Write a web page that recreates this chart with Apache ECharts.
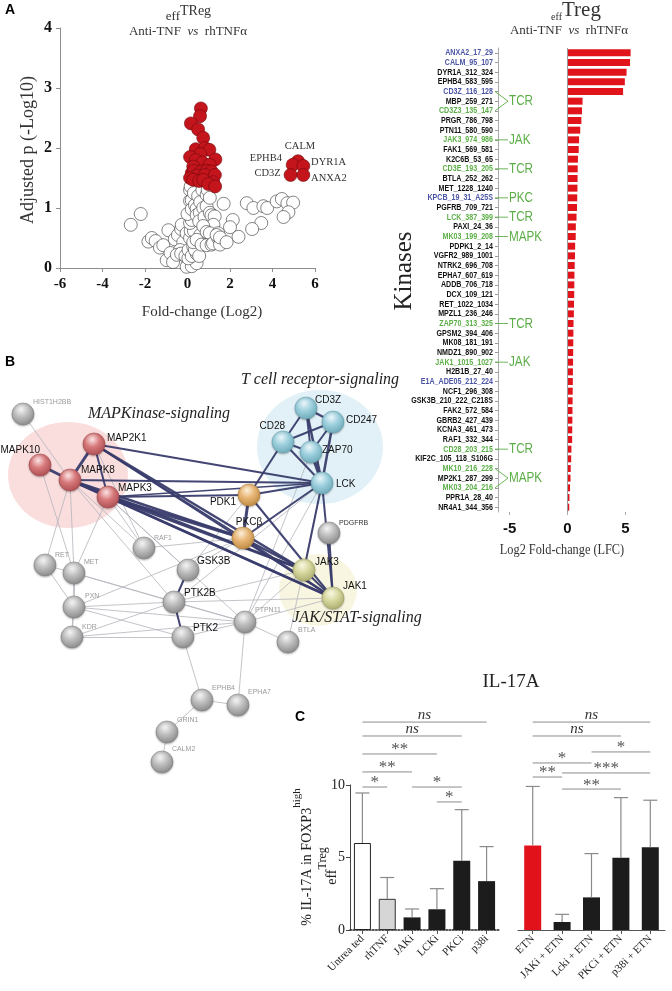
<!DOCTYPE html>
<html><head><meta charset="utf-8">
<script src="https://cdn.jsdelivr.net/npm/echarts@6.0.0/dist/echarts.min.js"></script>
<style>html,body{margin:0;padding:0;background:#fff}#c{width:672px;height:991px}</style>
</head><body><div id="c"></div>
<script>
// ---------------- DATA ----------------
// Panel A (volcano): [log2 fold-change, -log10 adjusted p]
const volcanoOpen = [[-2.67,0.72],[-2.2,0.9],[-1.84,0.44],[-1.68,0.5],[-1.5,0.45],[-1.3,0.34],[-1.14,0.38],[-0.9,0.63],[-0.98,0.13],[-0.8,0.25],[-0.68,0.1],[-0.6,0.48],[-0.45,0.55],[-0.3,0.65],[-0.27,0.72],[-0.11,0.38],[-0.2,0.43],[-0.35,0.3],[-0.5,0.22],[-0.3,0.24],[-0.1,0.2],[0.04,0.08],[-0.04,0.02],[0.2,0.03],[0.43,0.08],[0.04,0.16],[0.05,0.3],[0.2,0.2],[0.27,0.36],[0.43,0.24],[0.35,0.3],[0.55,0.2],[-0.04,0.58],[0.12,0.5],[0.15,0.62],[0.3,0.62],[0.12,0.75],[0.2,0.8],[0.0,0.9],[0.12,1.12],[0.12,1.3],[0.15,1.36],[0.2,1.13],[0.2,0.98],[0.3,1.25],[0.35,1.05],[0.43,0.99],[0.43,0.88],[0.5,1.2],[0.6,1.1],[0.58,0.92],[0.55,0.78],[0.6,0.55],[0.7,1.3],[0.74,1.0],[0.8,0.85],[0.9,1.03],[0.9,1.22],[0.95,1.3],[1.05,1.17],[1.05,0.92],[1.13,0.88],[1.28,0.86],[1.22,0.72],[0.74,0.7],[0.9,0.6],[1.05,0.58],[1.44,0.58],[0.27,0.43],[0.43,0.47],[0.66,0.39],[0.9,0.38],[1.13,0.39],[1.2,0.41],[1.44,0.5],[1.53,0.39],[1.37,0.55],[1.53,0.51],[1.7,1.07],[2.13,0.8],[2.0,0.68],[2.4,0.52],[1.84,0.43],[2.79,1.08],[3.1,1.0],[3.57,1.03],[3.75,1.0],[4.2,1.11],[4.44,1.15],[4.7,1.08],[4.97,1.09],[4.75,0.93],[4.52,0.85],[3.47,0.75],[3.04,0.65]];
const volcanoSig = [[0.63,2.66],[0.59,2.53],[0.16,2.41],[0.5,2.31],[0.74,2.17],[0.39,1.98],[0.82,2.0],[1.03,1.97],[0.6,1.9],[0.12,1.85],[1.31,1.81],[0.39,1.8],[0.7,1.76],[0.27,1.69],[1.05,1.72],[0.2,1.58],[0.3,1.62],[0.66,1.61],[0.9,1.62],[1.13,1.61],[0.43,1.54],[0.82,1.55],[1.29,1.55],[0.12,1.5],[0.27,1.47],[0.55,1.45],[0.74,1.47],[1.21,1.43],[0.98,1.4],[1.3,1.36]];
const labeledNames = ['CALM','EPHB4','DYR1A','CD3Z','ANXA2'];
const labeledX = [5.2,4.95,5.45,4.85,5.45];
const labeledY = [1.78,1.72,1.70,1.55,1.55];

// Panel A (kinases)
const kinaseNames = ['ANXA2_17_29','CALM_95_107','DYR1A_312_324','EPHB4_583_595','CD3Z_116_128','MBP_259_271','CD3Z3_135_147','PRGR_786_798','PTN11_580_590','JAK3_974_986','FAK1_569_581','K2C6B_53_65','CD3E_193_205','BTLA_252_262','MET_1228_1240','KPCB_19_31_A25S','PGFRB_709_721','LCK_387_399','PAXI_24_36','MK03_199_208','PDPK1_2_14','VGFR2_989_1001','NTRK2_696_708','EPHA7_607_619','ADDB_706_718','DCX_109_121','RET_1022_1034','MPZL1_236_246','ZAP70_313_325','GPSM2_394_406','MK08_181_191','NMDZ1_890_902','JAK1_1015_1027','H2B1B_27_40','E1A_ADE05_212_224','NCF1_296_308','GSK3B_210_222_C218S','FAK2_572_584','GBRB2_427_439','KCNA3_461_473','RAF1_332_344','CD28_203_215','KIF2C_105_118_S106G','MK10_216_228','MP2K1_287_299','MK03_204_216','PPR1A_28_40','NR4A1_344_356'];
const kinaseLFC = [5.45,5.4,5.1,4.95,4.8,1.3,1.25,1.2,1.1,1.0,0.97,0.9,0.88,0.87,0.86,0.84,0.82,0.78,0.72,0.71,0.66,0.65,0.62,0.6,0.59,0.58,0.56,0.55,0.52,0.51,0.5,0.49,0.48,0.47,0.46,0.45,0.44,0.43,0.42,0.41,0.4,0.34,0.32,0.28,0.26,0.22,0.17,0.15];
const kinaseGroup = ['b','b','k','k','b','k','g','k','k','g','k','k','g','k','k','b','k','g','k','g','k','k','k','k','k','k','k','k','g','k','k','k','g','k','b','k','k','k','k','k','k','g','k','g','k','g','k','k'];
const pathwayLabels = ['TCR','JAK','TCR','PKC','TCR','MAPK','TCR','JAK','TCR','MAPK'];
const pathwayRows = [[4,6],[9],[12],[15],[17],[19],[28],[32],[41],[43,45]];
const pathwayAt = [5,9,12,15,17,19,28,32,41,44];
const kinaseTicks = [-5,0,5];

// Panel B (network): name, layout x, layout y, module
const netNames = ['HIST1H2BB','MAP2K1','MAPK10','MAPK8','MAPK3','CD3Z','CD247','CD28','ZAP70','LCK','PDK1','PKCβ','PDGFRB','RAF1','RET','MET','GSK3B','JAK3','JAK1','PTK2B','PXN','PTPN11','PTK2','KDR','BTLA','EPHB4','EPHA7','GRIN1','CALM2'];
const netX = [23,94,40,70,108,306,333,283,311,322,249,243,329,144,45,74,188,304,333,174,74,245,183,72,288,202,238,167,162];
const netY = [414,444,465,480,497,408,422,442,452,483,495,538,533,548,565,573,570,570,598,602,607,622,637,637,642,700,705,732,762];
const netModule = ['g','r','r','r','r','b','b','b','b','b','o','o','g','g','g','g','g','y','y','g','g','g','g','g','g','g','g','g','g'];
const netStrong = [['MAP2K1','MAPK8',3],['MAPK10','MAPK8',3],['MAPK8','MAPK3',3],['MAP2K1','MAPK3',2],['MAP2K1','LCK',2],['MAP2K1','JAK3',2.5],['MAP2K1','JAK1',2],['MAP2K1','PKCβ',2],['MAPK8','LCK',2],['MAPK8','PKCβ',2.5],['MAPK8','JAK3',2],['MAPK8','JAK1',2],['MAPK3','PDK1',2],['MAPK3','LCK',1.5],['MAPK3','PKCβ',3],['MAPK3','JAK3',2.5],['MAPK3','JAK1',2.5],['CD3Z','CD247',2.5],['CD3Z','CD28',2],['CD3Z','ZAP70',2],['CD3Z','LCK',2.5],['CD247','CD28',2],['CD247','ZAP70',2],['CD247','LCK',2.5],['CD28','ZAP70',2],['CD28','LCK',2],['ZAP70','LCK',3],['CD28','PDK1',2],['PDK1','LCK',2],['PDK1','PKCβ',3],['PDK1','JAK1',2],['PKCβ','LCK',2],['PKCβ','JAK3',2.5],['PKCβ','JAK1',2.5],['LCK','JAK3',2],['LCK','JAK1',2],['PDGFRB','JAK1',2],['JAK3','JAK1',2],['GSK3B','PTK2B',2],['PTK2B','PTK2',2]];
const netWeak = [['HIST1H2BB','MAPK8'],['MAPK10','MET'],['MAPK8','RET'],['MAPK8','MET'],['MAPK3','MET'],['MAPK3','RAF1'],['MAP2K1','RAF1'],['MAPK8','RAF1'],['MAPK3','GSK3B'],['MAPK8','PTK2B'],['MAPK3','PTPN11'],['RET','MET'],['RET','PXN'],['MET','PXN'],['MET','KDR'],['MET','PTK2B'],['MET','PTPN11'],['PXN','KDR'],['PXN','PTK2B'],['PXN','PTK2'],['PXN','PTPN11'],['PXN','PKCβ'],['KDR','PTK2'],['KDR','PTK2B'],['KDR','PTPN11'],['PTK2B','PTPN11'],['PTK2','PTPN11'],['PTPN11','BTLA'],['PTPN11','LCK'],['PTPN11','JAK1'],['PTPN11','JAK3'],['PTPN11','ZAP70'],['GSK3B','PKCβ'],['GSK3B','PDK1'],['PTK2B','JAK1'],['PTK2B','LCK'],['PTK2B','JAK3'],['RAF1','PKCβ'],['PTK2','EPHB4'],['PTPN11','EPHA7'],['EPHB4','EPHA7'],['EPHB4','GRIN1'],['GRIN1','CALM2'],['BTLA','LCK']];
const moduleNames = ['MAPKinase-signaling','T cell receptor-signaling','JAK/STAT-signaling'];
const moduleCenterX = [68,320,318];
const moduleCenterY = [475,447,590];

// Panel C (IL-17A)
const leftCats = ['Untrea ted','rhTNF','JAKi','LCKi','PKCi','p38i'];
const leftMean = [6.0,2.15,0.87,1.43,4.77,3.37];
const leftErrTop = [9.45,3.62,1.45,2.85,8.3,5.75];
const rightCats = ['ETN','JAKi + ETN','Lcki + ETN','PKCi + ETN','p38i + ETN'];
const rightMean = [5.82,0.55,2.25,4.99,5.71];
const rightErrTop = [9.9,1.08,5.27,9.13,8.95];
const leftSig = [[0,5,14.34,'ns'],[0,4,13.38,'ns'],[0,3,12.14,'**'],[0,2,10.9,'**'],[0,1,9.86,'*'],[2,4,9.86,'*'],[3,4,8.83,'*']];
const rightSig = [[0,4,14.34,'ns'],[0,3,13.38,'ns'],[2,4,12.28,'*'],[0,2,11.52,'*'],[1,4,10.83,'***'],[0,1,10.55,'**'],[1,3,9.72,'**']];

// ---------------- STYLE ----------------
const SERIF = '"Liberation Serif","Times New Roman",serif';
const SANS = '"Liberation Sans",Arial,sans-serif';
const BLUE = '#4b55a6', GREEN = '#5bae46', RED = '#e1141c';
const labelColor = {b: BLUE, g: GREEN, k: '#111'};
const moduleColor = {
  r: ['#fbe3e3', '#d7787a', '#a94c50'],
  b: ['#eaf6fa', '#9dd0dd', '#6aa6b6'],
  o: ['#fcefd9', '#e8b574', '#b98640'],
  y: ['#f8f8e2', '#d7d89f', '#a8a96c'],
  g: ['#f4f4f4', '#bdbdbd', '#858585']
};
const nodeLabelStyle = {
  'HIST1H2BB':[10,-12,'left',0], 'MAP2K1':[13,-6,'left',1], 'MAPK10':[0,-15,'right',1], 'MAPK8':[11,-10,'left',1],
  'MAPK3':[10,-9,'left',1], 'CD3Z':[9,-8,'left',1], 'CD247':[13,-2,'left',1], 'CD28':[2,-16,'right',1],
  'ZAP70':[11,-2,'left',1], 'LCK':[14,1,'left',1], 'PDK1':[-13,7,'right',1], 'PKCβ':[6,-16,'center',1],
  'PDGFRB':[10,-10,'left',2], 'RAF1':[10,-10,'left',0], 'RET':[10,-10,'left',0], 'MET':[10,-11,'left',0],
  'GSK3B':[9,-9,'left',1], 'JAK3':[11,-8,'left',1], 'JAK1':[10,-12,'left',1], 'PTK2B':[10,-9,'left',1],
  'PXN':[11,-11,'left',0], 'PTPN11':[10,-12,'left',0], 'PTK2':[10,-9,'left',1], 'KDR':[10,-10,'left',0],
  'BTLA':[10,-12,'left',0], 'EPHB4':[10,-12,'left',0], 'EPHA7':[10,-13,'left',0], 'GRIN1':[10,-12,'left',0], 'CALM2':[10,-13,'left',0]
};

const chart = echarts.init(document.getElementById('c'), null, {renderer: 'canvas', width: 672, height: 991});

function txt(x, y, text, opt, extraProps) {
  return Object.assign({type: 'text', x: x, y: y, silent: true, z: 50,
    style: Object.assign({text: text, fill: '#222', fontFamily: SERIF, fontSize: 14, align: 'center', verticalAlign: 'middle'}, opt || {})}, extraProps || {});
}
function rtxt(x, y, text, opt, rot) {
  return txt(x, y, text, opt, {rotation: rot});
}

// network nodes
const netData = netNames.map((n, i) => {
  const c = moduleColor[netModule[i]];
  const ls = nodeLabelStyle[n];
  const kind = ls[3];
  return {
    name: n, value: [netX[i], netY[i]],
    itemStyle: {
      color: new echarts.graphic.RadialGradient(0.42, 0.3, 0.75, [
        {offset: 0, color: c[0]}, {offset: 0.45, color: c[1]}, {offset: 1, color: c[2]}]),
      borderColor: c[2], borderWidth: 0.6, shadowColor: 'rgba(0,0,0,0.25)', shadowBlur: 2, shadowOffsetY: 1
    },
    label: {
      show: true, position: 'inside', offset: [ls[0], ls[1]], align: ls[2], verticalAlign: 'middle',
      fontFamily: SANS, fontSize: kind === 1 ? 10 : 7, color: kind === 0 ? '#9a9a9a' : (kind === 2 ? '#333' : '#111')
    }
  };
});
const netLinks = netWeak.map(l => ({source: l[0], target: l[1], lineStyle: {color: '#b4b4bc', width: 0.8, opacity: 1}}))
  .concat(netStrong.map(l => ({source: l[0], target: l[1], lineStyle: {color: '#393c6c', width: l[2], opacity: 0.95}})));

const richTitle = {n: {fontFamily: SERIF, fontSize: 13, fill: '#333'}, i: {fontFamily: SERIF, fontSize: 13, fontStyle: 'italic', fill: '#333'}};
const baseGraphic = [
  txt(10, 10, 'A', {fontFamily: SANS, fontWeight: 'bold', fontSize: 14, fill: '#000'}),
  txt(10, 362, 'B', {fontFamily: SANS, fontWeight: 'bold', fontSize: 14, fill: '#000'}),
  txt(300, 717, 'C', {fontFamily: SANS, fontWeight: 'bold', fontSize: 14, fill: '#000'}),
  // volcano title
  txt(180, 17, 'eff', {align: 'right', fontSize: 13, fill: '#333'}),
  txt(180, 11, 'TReg', {align: 'left', fontSize: 14, fill: '#333'}),
  txt(188, 32, '{n|Anti-TNF  }{i|vs}{n|  rhTNFα}', {fontSize: 13, rich: richTitle}),
  rtxt(28, 150, 'Adjusted p (-Log10)', {fontSize: 18, fill: '#333'}, Math.PI / 2),
  txt(202, 312, 'Fold-change (Log2)', {fontSize: 15, fill: '#333'}),
  // kinase title
  txt(562, 17, 'eff', {align: 'right', fontSize: 10, fill: '#333'}),
  txt(562, 10, 'Treg', {align: 'left', fontSize: 21, fill: '#333'}),
  txt(569, 31, '{n|Anti-TNF  }{i|vs}{n|  rhTNFα}', {fontSize: 13, rich: richTitle}),
  rtxt(404, 271, 'Kinases', {fontSize: 25, fill: '#222'}, Math.PI / 2),
  txt(562, 550, 'Log2 Fold-change (LFC)', {fontSize: 15, fill: '#333'}, {scaleX: 0.82, originX: 0}),
  // network module titles
  txt(159, 414, moduleNames[0], {fontSize: 16, fontStyle: 'italic', fill: '#222'}),
  txt(320, 380, moduleNames[1], {fontSize: 16, fontStyle: 'italic', fill: '#222'}),
  txt(357, 618, moduleNames[2], {fontSize: 16, fontStyle: 'italic', fill: '#222'}),
  // panel C
  txt(511, 682, 'IL-17A', {fontSize: 19, fill: '#222'}),
  rtxt(303, 857, '{a|% IL-17A in FOXP3}{s|high}', {rich: {a: {fontFamily: SERIF, fontSize: 14, fill: '#222', lineHeight: 22, verticalAlign: 'bottom'}, s: {fontFamily: SERIF, fontSize: 11, fill: '#222', verticalAlign: 'top', lineHeight: 22}}}, Math.PI / 2),
  rtxt(328, 866, '{e|eff}{t|Treg}', {rich: {e: {fontFamily: SERIF, fontSize: 14, fill: '#222', lineHeight: 22, verticalAlign: 'bottom'}, t: {fontFamily: SERIF, fontSize: 12, fill: '#222', verticalAlign: 'top', lineHeight: 22}}}, Math.PI / 2)
];

const grayAxis = {onZero: false, lineStyle: {color: '#8e8e8e', width: 1}};
const option = {
  animation: false,
  backgroundColor: '#fff',
  grid: [
    {left: 60, top: 28, width: 255, height: 240, outerBoundsMode: 'none', containLabel: false},
    {left: 498, top: 48, width: 139, height: 464, outerBoundsMode: 'none', containLabel: false},
    {left: 0, top: 0, width: 672, height: 991, outerBoundsMode: 'none', containLabel: false},
    {left: 350, top: 785, width: 149, height: 145, outerBoundsMode: 'none', containLabel: false},
    {left: 518, top: 785, width: 147, height: 145, outerBoundsMode: 'none', containLabel: false}
  ],
  xAxis: [
    {gridIndex: 0, type: 'value', min: -6, max: 6, interval: 2, axisLine: grayAxis, axisTick: {show: true, length: 4, lineStyle: {color: '#8e8e8e'}}, splitLine: {show: false},
      axisLabel: {fontFamily: SERIF, fontWeight: 'bold', fontSize: 15, color: '#111', margin: 9}},
    {gridIndex: 1, type: 'value', min: -6, max: 6, axisLine: {onZero: false, lineStyle: {color: '#aaaaaa'}}, splitLine: {show: false},
      axisTick: {show: true, length: 3, customValues: kinaseTicks, lineStyle: {color: '#aaa'}},
      axisLabel: {customValues: kinaseTicks, fontFamily: SANS, fontWeight: 'bold', fontSize: 15, color: '#111', margin: 9}},
    {gridIndex: 2, type: 'value', min: 0, max: 672, show: false},
    {gridIndex: 3, type: 'category', data: leftCats, axisLine: {onZero: false, lineStyle: {color: '#222', type: 'dotted', width: 1.6}},
      axisTick: {show: true, alignWithLabel: true, length: 4, lineStyle: {color: '#555'}},
      axisLabel: {interval: 0, rotate: 45, fontFamily: SERIF, fontSize: 11, color: '#222', margin: 7}},
    {gridIndex: 4, type: 'category', data: rightCats, axisLine: {onZero: false, lineStyle: {color: '#555', width: 1}},
      axisTick: {show: true, alignWithLabel: true, length: 4, lineStyle: {color: '#555'}},
      axisLabel: {interval: 0, rotate: 45, fontFamily: SERIF, fontSize: 11, color: '#222', margin: 7}}
  ],
  yAxis: [
    {gridIndex: 0, type: 'value', min: 0, max: 4, interval: 1, axisLine: Object.assign({show: true}, grayAxis), axisTick: {show: true, length: 4, lineStyle: {color: '#8e8e8e'}}, splitLine: {show: false},
      axisLabel: {fontFamily: SERIF, fontWeight: 'bold', fontSize: 16, color: '#111', margin: 8}},
    {gridIndex: 1, type: 'category', inverse: true, data: kinaseNames, axisLine: {show: true, onZero: false, lineStyle: {color: '#aaaaaa'}},
      axisTick: {show: true, alignWithLabel: true, length: 3, lineStyle: {color: '#999'}},
      axisLabel: {show: false, interval: 0}},
    {gridIndex: 2, type: 'value', min: 0, max: 991, inverse: true, show: false},
    {gridIndex: 3, type: 'value', min: 0, max: 10, interval: 5, axisLine: {show: true, onZero: false, lineStyle: {color: '#444'}}, axisTick: {show: true, length: 4, lineStyle: {color: '#444'}}, splitLine: {show: false},
      axisLabel: {fontFamily: SERIF, fontSize: 14, color: '#222', margin: 5}},
    {gridIndex: 4, type: 'value', min: 0, max: 10, interval: 5, show: false}
  ],
  series: [
    {type: 'scatter', xAxisIndex: 0, yAxisIndex: 0, data: volcanoOpen, symbolSize: 13, silent: true,
      itemStyle: {color: '#ffffff', borderColor: '#333', borderWidth: 0.6, opacity: 1}},
    {type: 'scatter', xAxisIndex: 0, yAxisIndex: 0, data: volcanoSig, symbolSize: 13, silent: true,
      itemStyle: {color: '#c4141c', borderColor: '#6e0a0e', borderWidth: 0.6, opacity: 1}},
    {type: 'scatter', xAxisIndex: 0, yAxisIndex: 0, symbolSize: 13, silent: true,
      itemStyle: {color: '#c4141c', borderColor: '#6e0a0e', borderWidth: 0.6, opacity: 1},
      label: {show: true, formatter: p => p.name, fontFamily: SERIF, fontSize: 10.5, color: '#333'},
      data: labeledNames.map((n, i) => {
        const pos = {CALM: {position: 'top', distance: 3, offset: [2, 0]}, EPHB4: {position: 'left', distance: 4, offset: [0, -7]},
          DYR1A: {position: 'right', distance: 1, offset: [0, -4]}, CD3Z: {position: 'left', distance: 3, offset: [0, -2]},
          ANXA2: {position: 'right', distance: 1, offset: [0, 3]}}[n];
        return {name: n, value: [labeledX[i], labeledY[i]], label: pos};
      })},
    {type: 'bar', xAxisIndex: 1, yAxisIndex: 1, data: kinaseLFC, barWidth: 7, silent: true, itemStyle: {color: RED},
      markLine: {silent: true, symbol: 'none', label: {show: false}, lineStyle: {color: '#999', width: 1, type: 'solid'}, data: [{xAxis: 0}]}},
    {type: 'scatter', xAxisIndex: 2, yAxisIndex: 2, silent: true, z: 1,
      data: [
        {value: [moduleCenterX[0], moduleCenterY[0]], symbolSize: [120, 106], itemStyle: {color: '#f9d6d4'}},
        {value: [moduleCenterX[1], moduleCenterY[1]], symbolSize: [126, 114], itemStyle: {color: '#d9edf5'}},
        {value: [moduleCenterX[2], moduleCenterY[2]], symbolSize: [78, 72], itemStyle: {color: '#f6f4d8'}}
      ]},
    {type: 'graph', coordinateSystem: 'cartesian2d', xAxisIndex: 2, yAxisIndex: 2, z: 3, silent: true,
      symbolSize: 22, data: netData, links: netLinks, lineStyle: {curveness: 0}, emphasis: {disabled: true}},
    {type: 'bar', xAxisIndex: 3, yAxisIndex: 3, barWidth: 17, silent: true,
      data: leftMean.map((v, i) => ({value: v, itemStyle: i === 0 ? {color: '#fff', borderColor: '#222', borderWidth: 1} : (i === 1 ? {color: '#d6d6d6', borderColor: '#333', borderWidth: 1} : {color: '#1c1c1c'})}))},
    {type: 'custom', xAxisIndex: 3, yAxisIndex: 3, silent: true, z: 4,
      data: leftMean.map((v, i) => [i, v, leftErrTop[i]]), renderItem: errBar},
    {type: 'bar', xAxisIndex: 4, yAxisIndex: 4, barWidth: 17, silent: true,
      data: rightMean.map((v, i) => ({value: v, itemStyle: {color: i === 0 ? '#e1121a' : '#1c1c1c'}}))},
    {type: 'custom', xAxisIndex: 4, yAxisIndex: 4, silent: true, z: 4,
      data: rightMean.map((v, i) => [i, v, rightErrTop[i]]), renderItem: errBar}
  ],
  graphic: baseGraphic
};

function errBar(params, api) {
  const p1 = api.coord([api.value(0), api.value(1)]);
  const p2 = api.coord([api.value(0), api.value(2)]);
  const st = {stroke: '#8a8a8a', lineWidth: 1.2};
  return {type: 'group', children: [
    {type: 'line', shape: {x1: p1[0], y1: p1[1], x2: p2[0], y2: p2[1]}, style: st},
    {type: 'line', shape: {x1: p2[0] - 7, y1: p2[1], x2: p2[0] + 7, y2: p2[1]}, style: st}
  ]};
}

chart.setOption(option);

// second pass: labels and annotations placed through the axes' own scales
const extra = [];
const axX = chart.convertToPixel({xAxisIndex: 1}, -6);
kinaseNames.forEach((n, i) => {
  const y = chart.convertToPixel({yAxisIndex: 1}, n);
  extra.push(txt(axX - 5, y, n, {align: 'right', fontFamily: SANS, fontSize: 9.6, fontWeight: 'bold', fill: labelColor[kinaseGroup[i]]}, {scaleX: 0.74}));
});
const x0 = axX - 3, x1 = axX + 10;
pathwayLabels.forEach((lab, k) => {
  const yAt = chart.convertToPixel({yAxisIndex: 1}, kinaseNames[pathwayAt[k]]);
  pathwayRows[k].forEach(r => {
    const yr = chart.convertToPixel({yAxisIndex: 1}, kinaseNames[r]);
    extra.push({type: 'line', silent: true, z: 50, shape: {x1: x0, y1: yr, x2: x1, y2: yAt}, style: {stroke: GREEN, lineWidth: 0.9}});
  });
  extra.push(txt(x1 + 1, yAt, lab, {align: 'left', fontFamily: SANS, fontSize: 15, fill: GREEN}, {scaleX: 0.78}));
});
function sigMarks(sig, gi) {
  sig.forEach(s => {
    const a = chart.convertToPixel({gridIndex: gi}, [s[0], s[2]]);
    const b = chart.convertToPixel({gridIndex: gi}, [s[1], s[2]]);
    extra.push({type: 'line', silent: true, z: 50, shape: {x1: a[0], y1: a[1], x2: b[0], y2: b[1]}, style: {stroke: '#8c8c8c', lineWidth: 1}});
    const isNs = s[3] === 'ns';
    extra.push(txt((a[0] + b[0]) / 2, a[1] - (isNs ? 7 : 4), s[3], isNs ? {fontSize: 15, fontStyle: 'italic', fill: '#333'} : {fontSize: 17, fill: '#555'}));
  });
}
sigMarks(leftSig, 3);
sigMarks(rightSig, 4);
chart.setOption({graphic: baseGraphic.concat(extra)});
</script></body></html>
